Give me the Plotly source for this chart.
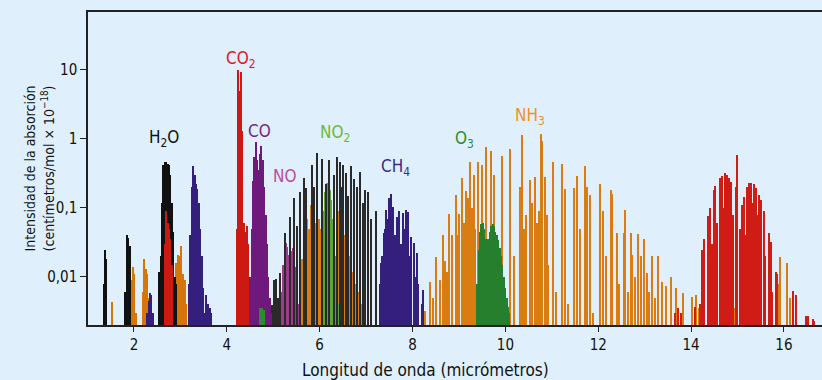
import math
import plotly.graph_objects as go

# ---------------- data (wavelength in micrometres, intensity) ----------------
# near-IR water (black)
h2o_nir_x = [1.37, 1.39, 1.41, 1.82, 1.85, 1.88, 1.91, 1.93]
h2o_nir_y = [0.008, 0.0245, 0.018, 0.006, 0.04, 0.037, 0.028, 0.012]
h2o_27_x = [2.55, 2.58, 2.61, 2.64, 2.67, 2.70, 2.73, 2.76, 2.79, 2.82, 2.85, 2.88, 2.91]
h2o_27_y = [0.012, 0.02, 0.12, 0.42, 0.47, 0.46, 0.44, 0.42, 0.3, 0.12, 0.045, 0.01, 0.008]
h2o_lines_x = [4.98, 5.02, 5.06, 5.11, 5.16, 5.25, 5.36, 5.45, 5.52, 5.59, 5.66, 5.72, 5.83,
               5.88, 5.95, 6.06, 6.13, 6.21, 6.31, 6.37, 6.44, 6.47, 6.51, 6.58, 6.62, 6.67,
               6.74, 6.80, 6.88, 6.93, 6.98, 7.05, 7.10, 7.21]
h2o_lines_y = [0.0039, 0.009, 0.0093, 0.005, 0.0115, 0.043, 0.074, 0.138, 0.054, 0.17, 0.27,
               0.195, 0.42, 0.2, 0.63, 0.52, 0.22, 0.50, 0.3, 0.55, 0.47, 0.2, 0.42, 0.32,
               0.15, 0.40, 0.26, 0.2, 0.33, 0.12, 0.18, 0.17, 0.07, 0.089]

# CO2 (red)
co2_43_x = [4.22, 4.25, 4.28, 4.31, 4.34, 4.37, 4.40, 4.43, 4.46]
co2_43_y = [0.05, 10, 5, 9.5, 1.3, 0.06, 0.045, 0.055, 0.03]
co2_27_x = [2.67, 2.70, 2.73, 2.76, 2.79, 2.82]
co2_27_y = [0.03, 0.09, 0.06, 0.05, 0.035, 0.015]
co2_15_x = [13.65, 13.72, 13.78, 14.08, 14.20, 14.24, 14.28, 14.37, 14.41, 14.45, 14.50, 14.53,
            14.57, 14.62, 14.66, 14.70, 14.73, 14.77, 14.82, 14.86, 14.90, 14.98, 15.00, 15.05,
            15.11, 15.14, 15.18, 15.20, 15.22, 15.25, 15.28, 15.30, 15.32, 15.35, 15.38, 15.41,
            15.44, 15.47, 15.52, 15.57, 15.60, 15.68, 15.72, 15.75, 15.83, 15.86, 16.21, 16.26,
            16.47, 16.52, 16.62, 16.66]
co2_15_y = [0.003, 0.0035, 0.003, 0.0037, 0.004, 0.0245, 0.035, 0.076, 0.10, 0.03, 0.18, 0.21,
            0.06, 0.27, 0.295, 0.1, 0.316, 0.30, 0.27, 0.24, 0.08, 0.20, 0.59, 0.05,
            0.11, 0.145, 0.04, 0.20, 0.09, 0.23, 0.06, 0.23, 0.12, 0.225, 0.05, 0.195,
            0.08, 0.155, 0.13, 0.089, 0.02, 0.043, 0.032, 0.006, 0.012, 0.011, 0.0062, 0.0055,
            0.0027, 0.0027, 0.0025, 0.0023]

# CO (purple) and the small green band inside it
co_x = [4.51, 4.54, 4.57, 4.60, 4.63, 4.66, 4.69, 4.72, 4.75, 4.78, 4.81, 4.84, 4.87, 4.90, 4.93, 4.96]
co_y = [0.01, 0.05, 0.25, 0.55, 0.9, 0.5, 0.35, 0.6, 0.78, 0.5, 0.2, 0.08, 0.03, 0.01, 0.005, 0.003]
g47_x = [4.72, 4.76, 4.80]
g47_y = [0.0035, 0.0035, 0.0033]

# NO (magenta)
no_x = [5.19, 5.22, 5.25, 5.28, 5.31, 5.34, 5.37, 5.40, 5.43, 5.46, 5.49, 5.52, 5.55]
no_y = [0.006, 0.015, 0.028, 0.031, 0.027, 0.021, 0.02, 0.024, 0.026, 0.022, 0.014, 0.007, 0.004]

# NO2 (light green)
no2_x = [6.07, 6.10, 6.13, 6.16, 6.19, 6.22, 6.25, 6.28, 6.31, 6.34, 6.37, 6.40]
no2_y = [0.02, 0.09, 0.17, 0.23, 0.2, 0.18, 0.13, 0.07, 0.04, 0.02, 0.008, 0.004]

# CH4 (indigo)
ch4_33_x = [3.19, 3.22, 3.25, 3.28, 3.31, 3.34, 3.37, 3.40, 3.43, 3.46, 3.49, 3.52]
ch4_33_y = [0.008, 0.04, 0.2, 0.4, 0.3, 0.22, 0.19, 0.12, 0.05, 0.02, 0.007, 0.003]
ch4_lines_x = [2.29, 2.32, 2.35, 2.38, 2.41, 3.56, 3.60, 3.64, 3.67,
               7.30, 7.33, 7.35, 7.38, 7.41, 7.44, 7.47, 7.49, 7.52, 7.54, 7.57, 7.59, 7.62,
               7.66, 7.69, 7.71, 7.75, 7.80, 7.83, 7.87, 7.91, 7.94, 7.98, 8.03, 8.06, 8.09,
               8.13, 8.20, 8.24]
ch4_lines_y = [0.003, 0.0045, 0.0058, 0.0055, 0.003, 0.0055, 0.004, 0.0035, 0.003,
               0.008, 0.016, 0.02, 0.043, 0.05, 0.093, 0.07, 0.138, 0.12, 0.16, 0.09, 0.105, 0.04,
               0.074, 0.05, 0.089, 0.03, 0.085, 0.05, 0.093, 0.088, 0.02, 0.038, 0.031, 0.01, 0.022,
               0.008, 0.004, 0.0065]

# O3 (dark green)
o3_x = [9.40, 9.43, 9.46, 9.49, 9.52, 9.55, 9.58, 9.61, 9.64, 9.67, 9.70, 9.73, 9.76, 9.79,
        9.82, 9.85, 9.88, 9.91, 9.94, 9.97, 10.00, 10.03, 10.06, 10.09]
o3_y = [0.008, 0.025, 0.045, 0.058, 0.06, 0.05, 0.035, 0.03, 0.035, 0.045, 0.055, 0.058,
        0.055, 0.045, 0.04, 0.034, 0.026, 0.02, 0.015, 0.01, 0.007, 0.005, 0.0037, 0.003]

# NH3 / other (orange)
nh3_nir_x = [1.525, 1.95, 1.98, 2.01, 2.04, 2.20, 2.23, 2.26, 2.29, 2.32,
             2.86, 2.89, 2.92, 2.95, 2.98, 3.01, 3.04, 3.07, 3.10, 3.13]
nh3_nir_y = [0.0044, 0.009, 0.014, 0.011, 0.003, 0.006, 0.018, 0.013, 0.011, 0.005,
             0.004, 0.01, 0.016, 0.021, 0.02, 0.028, 0.011, 0.011, 0.009, 0.004]
nh3_6_x = [5.58, 5.62, 5.66, 5.70, 5.74, 5.78, 5.82, 5.86, 5.90, 5.94, 5.98, 6.02, 6.05,
           6.42, 6.46, 6.50, 6.54, 6.58, 6.62, 6.66, 6.70, 6.74, 6.78, 6.82, 6.86, 6.90, 6.95]
nh3_6_y = [0.07, 0.018, 0.03, 0.045, 0.07, 0.05, 0.11, 0.08, 0.06, 0.13, 0.07, 0.05, 0.035,
           0.09, 0.07, 0.05, 0.04, 0.03, 0.022, 0.02, 0.012, 0.009, 0.008, 0.006, 0.004, 0.004, 0.003]
nh3_x = [8.27, 8.39, 8.45, 8.50, 8.59, 8.65, 8.70, 8.75, 8.79, 8.86, 8.93, 8.97, 9.00, 9.08,
         9.12, 9.15, 9.20, 9.24, 9.28, 9.32, 9.36, 9.42, 9.51, 9.58, 9.70, 9.75, 9.94, 10.10,
         10.20, 10.31, 10.36, 10.40, 10.44, 10.53, 10.58, 10.64, 10.68, 10.72, 10.77, 10.80,
         10.85, 10.89, 10.93, 11.03, 11.10, 11.22, 11.28, 11.35, 11.48, 11.55, 11.62, 11.73,
         11.76, 11.82, 11.90, 12.04, 12.11, 12.18, 12.27, 12.30, 12.40, 12.45, 12.55, 12.59,
         12.65, 12.70, 12.74, 12.80, 12.86, 12.93, 12.99, 13.06, 13.10, 13.16, 13.22, 13.29,
         13.37, 13.47, 13.58, 13.69, 13.83, 14.03, 14.10, 14.18, 14.46, 14.94, 15.41, 15.88,
         15.93, 16.06, 16.13]
nh3_y = [0.0032, 0.0085, 0.005, 0.0195, 0.009, 0.041, 0.017, 0.012, 0.083, 0.041, 0.155, 0.04,
         0.083, 0.275, 0.06, 0.174, 0.138, 0.457, 0.1, 0.30, 0.05, 0.457, 0.417, 0.76, 0.66,
         0.30, 0.575, 0.72, 0.02, 0.204, 1.15, 0.05, 0.079, 0.257, 0.12, 0.28, 0.06, 0.09,
         1.17, 0.95, 0.28, 0.08, 0.015, 0.47, 0.006, 0.44, 0.186, 0.004, 0.195, 0.29, 0.05,
         0.41, 0.2, 0.155, 0.003, 0.22, 0.091, 0.02, 0.18, 0.16, 0.043, 0.008, 0.044, 0.095,
         0.006, 0.044, 0.021, 0.01, 0.042, 0.02, 0.036, 0.0115, 0.006, 0.02, 0.005, 0.02,
         0.0085, 0.0075, 0.010, 0.007, 0.0058, 0.0051, 0.0055, 0.0035, 0.012, 0.0035, 0.005,
         0.008, 0.0195, 0.016, 0.005]

labels = [("H<sub>2</sub>O", 2.65, 1.03, "#111111"),
          ("CO<sub>2</sub>", 4.31, 14.0, "#e3141c"),
          ("CO", 4.71, 1.31, "#7a1f8a"),
          ("NO", 5.25, 0.29, "#c04aa0"),
          ("NO<sub>2</sub>", 6.33, 1.22, "#6cb83a"),
          ("CH<sub>4</sub>", 7.64, 0.39, "#3a2a85"),
          ("O<sub>3</sub>", 9.13, 0.97, "#2e8b3a"),
          ("NH<sub>3</sub>", 10.53, 2.1, "#f0901e")]

x_title = "Longitud de onda (micrómetros)"
y_title = "Intensidad de la absorción<br>(centímetros/mol × 10<sup>−18</sup>)"

FONT = "Liberation Sans Narrow, DejaVu Sans Condensed, Arial Narrow, sans-serif"
BG = "#dff0fc"

fig = go.Figure()


def add(x, y, color, width):
    fig.add_trace(go.Bar(
        x=x, y=y, width=width,
        marker=dict(color=color, line=dict(width=0)),
        hoverinfo="x+y", showlegend=False))


# back to front
add(nh3_x, nh3_y, "#d97d12", 0.03)
add(nh3_6_x, nh3_6_y, "#d97d12", 0.03)
add(nh3_nir_x, nh3_nir_y, "#d4760a", 0.032)
add(no_x, no_y, "#9e3b8c", 0.032)
add(no2_x, no2_y, "#5aa630", 0.032)
add(h2o_lines_x, h2o_lines_y, "#2a2a2a", 0.03)
add(h2o_nir_x, h2o_nir_y, "#111111", 0.032)
add(h2o_27_x, h2o_27_y, "#111111", 0.032)
add(co2_27_x, co2_27_y, "#cc1a12", 0.032)
add(co2_43_x, co2_43_y, "#cc1a12", 0.032)
add(co2_15_x, co2_15_y, "#cf1c14", 0.03)
add(co_x, co_y, "#6d1a7c", 0.032)
add(g47_x, g47_y, "#2f8a34", 0.04)
add(ch4_33_x, ch4_33_y, "#34207c", 0.032)
add(ch4_lines_x, ch4_lines_y, "#34207c", 0.03)
add(o3_x, o3_y, "#267f2c", 0.032)

for txt, xx, yy, col in labels:
    fig.add_annotation(x=xx, y=math.log10(yy), text=txt, showarrow=False,
                       font=dict(family=FONT, size=17, color=col), xref="x", yref="y")

fig.add_annotation(x=8.27, xref="x", y=-0.144, yref="paper", text=x_title, showarrow=False,
                   yanchor="middle", font=dict(family=FONT, size=17, color="#111111"))
fig.add_annotation(x=-0.0668, xref="paper", y=0.5, yref="paper", text=y_title, showarrow=False,
                   textangle=-90, xanchor="center", yanchor="middle",
                   font=dict(family=FONT, size=14, color="#111111"))

fig.update_layout(
    width=822, height=380,
    margin=dict(l=88, r=0, t=12, b=55, autoexpand=False),
    paper_bgcolor=BG, plot_bgcolor=BG,
    barmode="overlay", bargap=0,
    font=dict(family=FONT, size=15, color="#111111"),
    xaxis=dict(range=[1.01, 16.82], tickvals=[2, 4, 6, 8, 10, 12, 14, 16],
               ticks="outside", ticklen=5, tickwidth=1.2, tickcolor="#222",
               showline=True, linecolor="#222", linewidth=1.5, mirror=True,
               showgrid=False, zeroline=False, automargin=False,
               tickfont=dict(family=FONT, size=15)),
    yaxis=dict(type="log", range=[-2.696, 1.84],
               tickvals=[0.01, 0.1, 1, 10], ticktext=["0,01", "0,1", "1", "10"],
               ticks="outside", ticklen=6, tickwidth=1.2, tickcolor="#222",
               showline=True, linecolor="#222", linewidth=1.5, mirror=False,
               showgrid=False, zeroline=False, automargin=False,
               tickfont=dict(family=FONT, size=15)),
)

fig.write_html(
    "out.html",
    config={"displayModeBar": False},
    post_script="document.body.style.margin='0';document.body.style.overflow='hidden';"
                "document.body.style.background='" + BG + "';",
)
